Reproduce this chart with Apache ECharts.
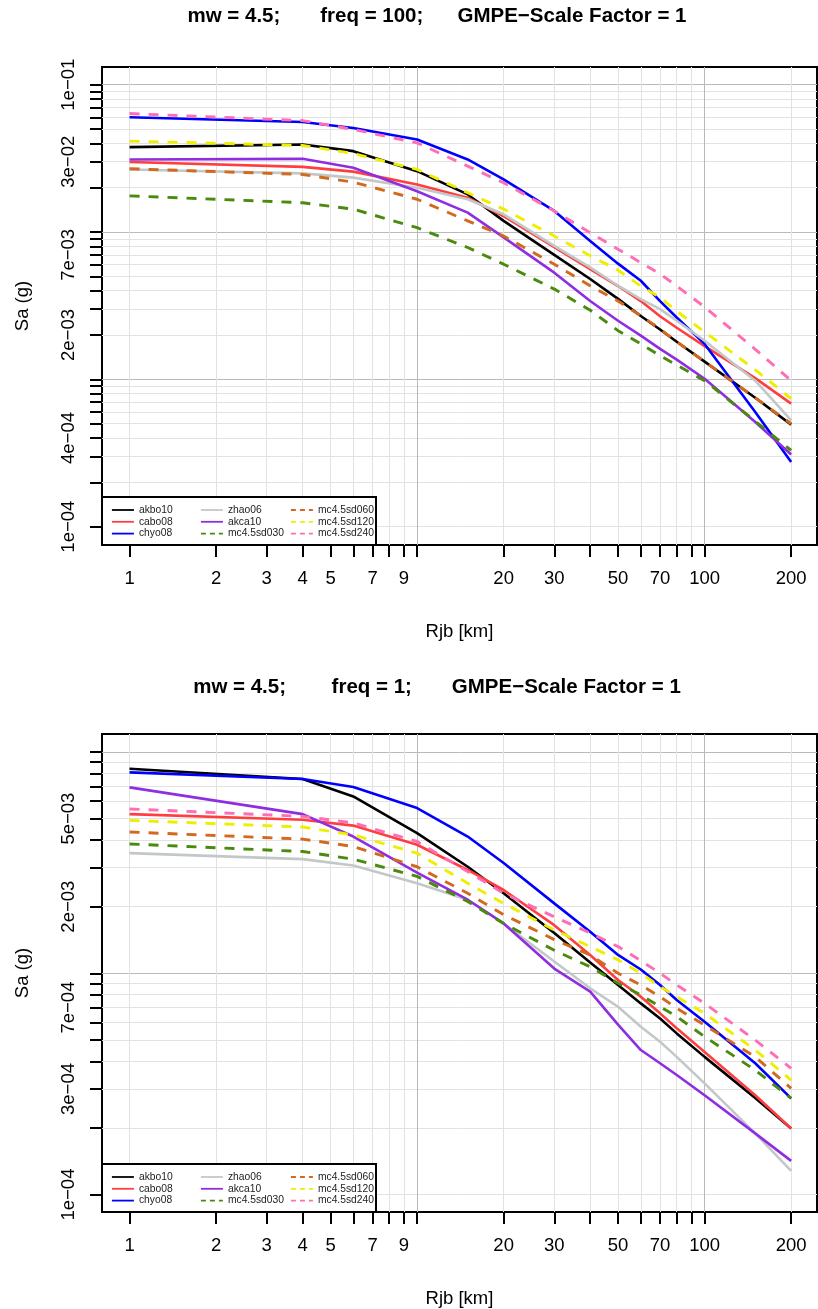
<!DOCTYPE html>
<html>
<head>
<meta charset="utf-8">
<script src="https://cdn.jsdelivr.net/npm/echarts@6/dist/echarts.min.js"></script>
<style>
  html, body { margin: 0; padding: 0; background: #fff; }
  #chart { width: 818px; height: 1309px; }
</style>
</head>
<body>
<div id="chart"></div>
<script>
// Distances (Rjb, km) at which every model is evaluated
const distances = [1, 4, 6, 10, 15, 20, 30, 40, 50, 60, 70, 80, 100, 150, 200];

// Model names, in drawing order
const modelNames = ['akbo10', 'cabo08', 'chyo08', 'zhao06', 'akca10',
                    'mc4.5sd030', 'mc4.5sd060', 'mc4.5sd120', 'mc4.5sd240'];

// Sa (g) at freq = 100
const akbo10_f100   = [0.0377, 0.0393, 0.0354, 0.0259, 0.0180, 0.0119, 0.0070, 0.0048, 0.00352, 0.00269, 0.00218, 0.0018, 0.00132, 0.00075, 0.000493];
const cabo08_f100   = [0.0299, 0.0277, 0.0257, 0.0210, 0.0171, 0.0128, 0.0079, 0.0056, 0.0043, 0.0034, 0.00268, 0.00224, 0.00168, 0.00102, 0.000684];
const chyo08_f100   = [0.0601, 0.0559, 0.0509, 0.0425, 0.0311, 0.0228, 0.0139, 0.0087, 0.0061, 0.00467, 0.0034, 0.00263, 0.00174, 0.00060, 0.000275];
const zhao06_f100   = [0.0266, 0.0250, 0.0234, 0.0200, 0.0167, 0.0132, 0.00805, 0.00575, 0.00432, 0.0035, 0.0030, 0.0025, 0.00183, 0.00098, 0.000527];
const akca10_f100   = [0.0311, 0.0314, 0.0273, 0.0189, 0.01355, 0.0092, 0.0053, 0.0034, 0.0025, 0.00198, 0.00161, 0.00136, 0.00101, 0.000514, 0.000309];
const sd030_f100    = [0.0176, 0.0158, 0.0143, 0.0107, 0.00785, 0.00605, 0.0041, 0.00295, 0.00214, 0.00174, 0.00145, 0.00125, 0.00098, 0.00052, 0.00033];
const sd060_f100    = [0.0269, 0.0246, 0.0218, 0.0167, 0.0119, 0.0094, 0.00605, 0.00432, 0.0034, 0.0027, 0.0022, 0.0018, 0.00132, 0.00075, 0.0005];
const sd120_f100    = [0.0414, 0.0387, 0.0341, 0.0266, 0.0185, 0.0143, 0.0094, 0.0069, 0.0055, 0.0043, 0.0036, 0.0029, 0.0021, 0.00116, 0.00074];
const sd240_f100    = [0.0637, 0.0571, 0.0497, 0.0403, 0.0280, 0.0216, 0.0139, 0.0099, 0.00765, 0.0062, 0.0052, 0.0043, 0.0031, 0.0016, 0.00098];

// Sa (g) at freq = 1
const akbo10_f1     = [0.0084, 0.00755, 0.0063, 0.0043, 0.00303, 0.0023, 0.00152, 0.00112, 0.000885, 0.000731, 0.000625, 0.000535, 0.000419, 0.000273, 0.000199];
const cabo08_f1     = [0.00524, 0.00494, 0.00465, 0.00381, 0.00293, 0.00238, 0.00165, 0.00121, 0.000933, 0.000784, 0.000659, 0.000564, 0.000441, 0.000281, 0.000199];
const chyo08_f1     = [0.00809, 0.00755, 0.00695, 0.00558, 0.00415, 0.00315, 0.00207, 0.00154, 0.00121, 0.00104, 0.000885, 0.000757, 0.000604, 0.000392, 0.000272];
const zhao06_f1     = [0.00349, 0.00328, 0.00307, 0.00255, 0.00215, 0.00168, 0.00113, 0.000855, 0.000706, 0.000573, 0.00049, 0.000419, 0.000318, 0.000189, 0.000128];
const akca10_f1     = [0.00692, 0.00524, 0.00415, 0.00285, 0.00215, 0.00168, 0.00105, 0.000826, 0.000586, 0.00045, 0.000392, 0.000347, 0.000281, 0.000189, 0.000142];
const sd030_f1      = [0.00384, 0.00355, 0.00328, 0.00274, 0.00211, 0.00168, 0.00127, 0.00107, 0.000902, 0.000798, 0.000706, 0.000637, 0.000517, 0.000365, 0.000272];
const sd060_f1      = [0.00435, 0.00404, 0.00374, 0.00303, 0.0023, 0.00184, 0.00142, 0.00121, 0.001, 0.000885, 0.000784, 0.000695, 0.000583, 0.000419, 0.000302];
const sd120_f1      = [0.00491, 0.00458, 0.00422, 0.00349, 0.00255, 0.00207, 0.00157, 0.00132, 0.00115, 0.001, 0.00087, 0.000784, 0.000659, 0.00045, 0.000329];
const sd240_f1      = [0.00553, 0.00512, 0.00478, 0.00394, 0.00288, 0.0023, 0.0018, 0.00152, 0.00132, 0.00114, 0.001, 0.000885, 0.000731, 0.000499, 0.000372];

// Axis ticks and labels
const xTickValues  = [1, 2, 3, 4, 5, 6, 7, 8, 9, 10, 20, 30, 40, 50, 60, 70, 80, 90, 100, 200];
const xTickLabels  = [1, 2, 3, 4, 5, 7, 9, 20, 30, 50, 70, 100, 200];
const xMajorGrid   = [10, 100];
const yLabelsTop    = [1e-4, 4e-4, 2e-3, 7e-3, 3e-2, 1e-1];
const yLabelsBottom = [1e-4, 3e-4, 7e-4, 2e-3, 5e-3];
const yMajorGridTop    = [1e-3, 1e-2, 1e-1];
const yMajorGridBottom = [1e-3, 1e-2];

const panelTitles = [
  'mw = 4.5;       freq = 100;      GMPE\u2212Scale Factor = 1',
  'mw = 4.5;        freq = 1;       GMPE\u2212Scale Factor = 1'
];

// 1..9 x 10^e for each decade, up to and including 10^last
function decadeTicks(first, last) {
  const out = [];
  for (let e = first; e < last; e++) {
    for (let m = 1; m <= 9; m++) out.push(Number(m + 'e' + e));
  }
  out.push(Number('1e' + last));
  return out;
}
const yTicksTop = decadeTicks(-4, -1);
const yTicksBottom = decadeTicks(-4, -2);

// "3e-02" style labels with a true minus sign
function sciLabel(v) {
  const parts = v.toExponential(0).split('e');
  const ex = parseInt(parts[1], 10);
  const digits = String(Math.abs(ex)).padStart(2, '0');
  return parts[0] + 'e' + (ex < 0 ? '\u2212' : '+') + digits;
}

const FONT = '"Liberation Sans", Arial, Helvetica, sans-serif';
const GRID_LIGHT = '#e2e2e2';
const GRID_DARK = '#b9b9b9';

const modelStyles = {
  'akbo10':     { color: '#000000', dashed: false },
  'cabo08':     { color: '#ff3f3f', dashed: false },
  'chyo08':     { color: '#0000ff', dashed: false },
  'zhao06':     { color: '#c2c8c8', dashed: false },
  'akca10':     { color: '#8e2ee0', dashed: false },
  'mc4.5sd030': { color: '#4a8a0c', dashed: true },
  'mc4.5sd060': { color: '#d2691e', dashed: true },
  'mc4.5sd120': { color: '#eeee00', dashed: true },
  'mc4.5sd240': { color: '#ff6eb4', dashed: true }
};

const panelValues = [
  [akbo10_f100, cabo08_f100, chyo08_f100, zhao06_f100, akca10_f100, sd030_f100, sd060_f100, sd120_f100, sd240_f100],
  [akbo10_f1, cabo08_f1, chyo08_f1, zhao06_f1, akca10_f1, sd030_f1, sd060_f1, sd120_f1, sd240_f1]
];

// Layout of the two panels
const panels = [
  { top: 67,  height: 478, yMin: 7.51e-5, yMax: 0.1319, yTicks: yTicksTop,    yLabels: yLabelsTop,    yMajor: yMajorGridTop,    titleTop: 6 },
  { top: 734, height: 478, yMin: 8.34e-5, yMax: 0.01206, yTicks: yTicksBottom, yLabels: yLabelsBottom, yMajor: yMajorGridBottom, titleTop: 677 }
];
const GRID_LEFT = 102, GRID_WIDTH = 715;
const X_MIN = 0.802, X_MAX = 246;

const grids = [], xAxes = [], yAxes = [], series = [], legends = [], titles = [], graphics = [];

panels.forEach((p, gi) => {
  grids.push({
    left: GRID_LEFT, top: p.top, width: GRID_WIDTH, height: p.height,
    show: true, borderColor: '#000', borderWidth: 2, backgroundColor: 'transparent'
  });

  xAxes.push({
    type: 'log', logBase: 10, gridIndex: gi, min: X_MIN, max: X_MAX,
    axisLine: { show: false },
    axisTick: { show: true, customValues: xTickValues, length: 12, lineStyle: { color: '#000', width: 2 } },
    axisLabel: { customValues: xTickLabels, margin: 24, fontSize: 18.5, color: '#000', fontFamily: FONT,
                 formatter: v => String(v) },
    splitLine: { show: true, lineStyle: { width: 1,
                 color: xTickValues.map(v => xMajorGrid.includes(v) ? GRID_DARK : GRID_LIGHT) } },
    name: 'Rjb [km]', nameLocation: 'middle', nameGap: 77,
    nameTextStyle: { fontSize: 18.5, color: '#000', fontFamily: FONT }
  });

  yAxes.push({
    type: 'log', logBase: 10, gridIndex: gi, min: p.yMin, max: p.yMax,
    axisLine: { show: false },
    axisTick: { show: true, customValues: p.yTicks, length: 12, lineStyle: { color: '#000', width: 2 } },
    axisLabel: { customValues: p.yLabels, margin: 24, rotate: 90, fontSize: 18.5, color: '#000', fontFamily: FONT,
                 formatter: v => sciLabel(v) },
    splitLine: { show: true, lineStyle: { width: 1,
                 color: p.yTicks.map(v => p.yMajor.includes(v) ? GRID_DARK : GRID_LIGHT) } },
    name: 'Sa (g)', nameLocation: 'middle', nameGap: 70, nameRotate: 90,
    nameTextStyle: { fontSize: 18.5, color: '#000', fontFamily: FONT }
  });

  modelNames.forEach((name, k) => {
    const st = modelStyles[name];
    series.push({
      name, type: 'line', xAxisIndex: gi, yAxisIndex: gi,
      data: distances.map((d, i) => [d, panelValues[gi][k][i]]),
      symbol: 'none', silent: true,
      lineStyle: { color: st.color, width: st.dashed ? 2.9 : 2.6, type: st.dashed ? [10, 9] : 'solid', cap: 'butt' },
      itemStyle: { color: st.color },
      emphasis: { disabled: true }
    });
  });

  titles.push({
    text: panelTitles[gi], left: 437, top: p.titleTop, textAlign: 'center', padding: 0,
    textStyle: { fontSize: 20.5, fontWeight: 'bold', color: '#000', fontFamily: FONT }
  });

  // legend box in the lower-left corner of the plot
  const boxBottom = p.top + p.height;
  graphics.push({
    type: 'rect', z: 3, silent: true,
    shape: { x: GRID_LEFT, y: boxBottom - 48, width: 274, height: 48 },
    style: { fill: '#fff', stroke: '#000', lineWidth: 2 }
  });
  const columns = [modelNames.slice(0, 3), modelNames.slice(3, 6), modelNames.slice(6, 9)];
  const colLeft = [111, 200, 290];
  columns.forEach((names, ci) => {
    legends.push({
      orient: 'vertical', left: colLeft[ci], top: boxBottom - 40, padding: 0,
      itemWidth: 22, itemHeight: 10, itemGap: 1.8, z: 5,
      selectedMode: false,
      textStyle: { fontSize: 10.3, color: '#222', fontFamily: FONT, padding: [0, 0, 0, 0] },
      itemStyle: { opacity: 0 },
      lineStyle: { width: 1.8 },
      data: names.map(n => ({
        name: n,
        lineStyle: { width: 1.8, type: modelStyles[n].dashed ? [5, 4] : 'solid' }
      }))
    });
  });
});

const chart = echarts.init(document.getElementById('chart'), null, { renderer: 'canvas' });
chart.setOption({
  animation: false,
  backgroundColor: '#fff',
  title: titles,
  grid: grids,
  xAxis: xAxes,
  yAxis: yAxes,
  legend: legends,
  graphic: graphics,
  series
});
</script>
</body>
</html>
